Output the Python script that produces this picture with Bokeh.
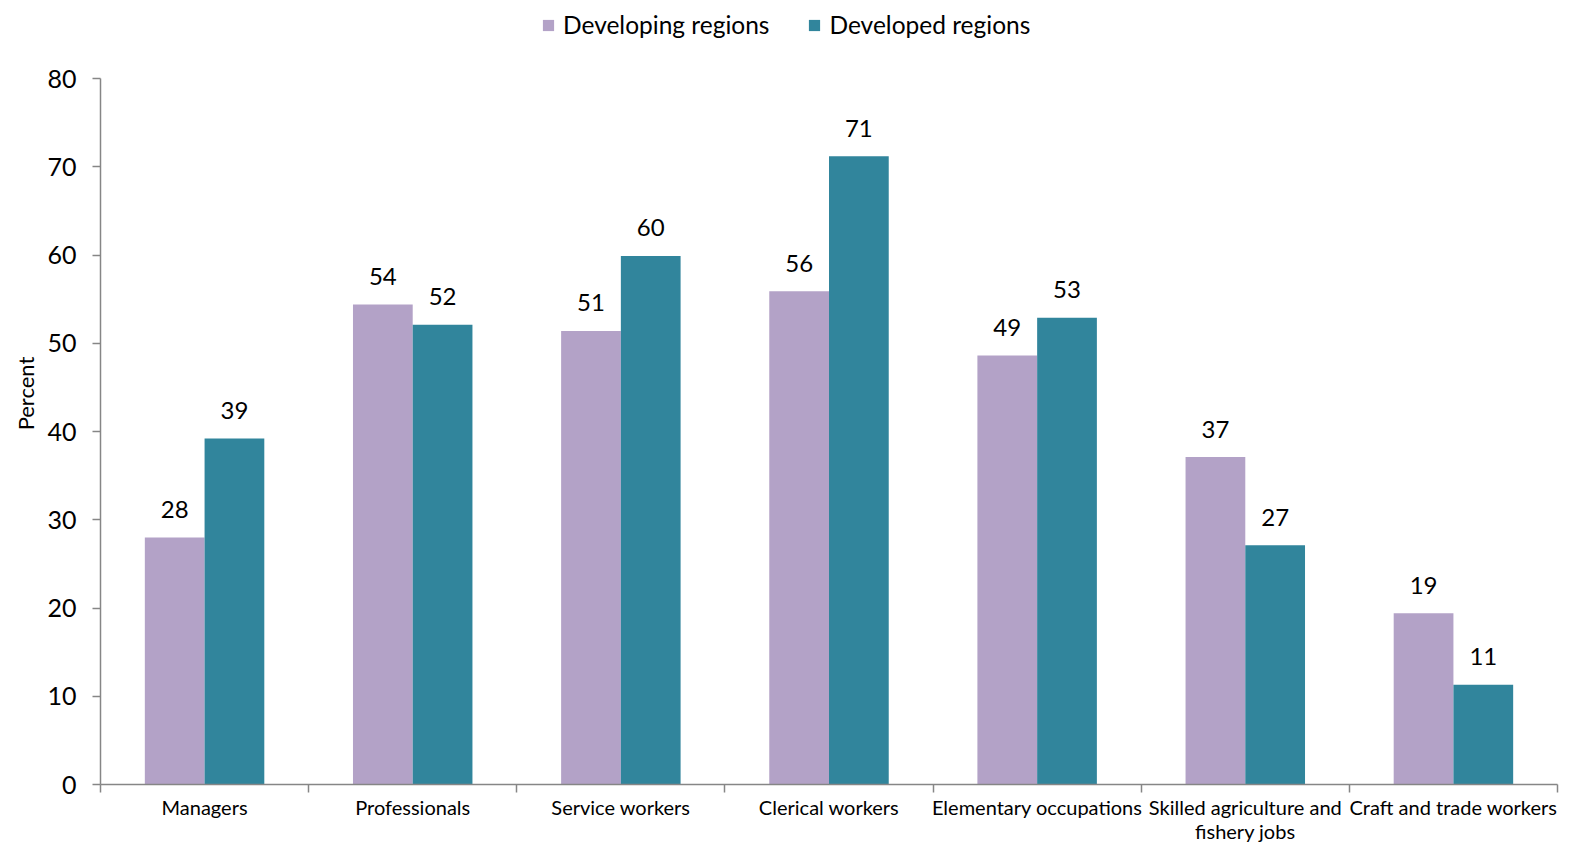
import numpy as np
from bokeh.plotting import figure
from bokeh.models import ColumnDataSource, FixedTicker, Legend, LegendItem, Range1d
from bokeh.core.properties import value
from bokeh.embed import file_html
from bokeh.resources import INLINE

categories = ["Managers", "Professionals", "Service workers", "Clerical workers",
              "Elementary occupations", "Skilled agriculture and\nfishery jobs",
              "Craft and trade workers"]
developing = [28.0, 54.4, 51.4, 55.9, 48.6, 37.1, 19.4]
developed = [39.2, 52.1, 59.9, 71.2, 52.9, 27.1, 11.3]
y_ticks = [0, 10, 20, 30, 40, 50, 60, 70, 80]

FONT = "Lato"
PURPLE = "#B3A2C7"
TEAL = "#31859C"
AXIS = "#868686"

idx = np.arange(len(categories))
bw = 0.287
src_a = ColumnDataSource(dict(x=idx + 0.5 - bw / 2, top=developing,
                              lab=[f"{v:.0f}" for v in developing]))
src_b = ColumnDataSource(dict(x=idx + 0.5 + bw / 2, top=developed,
                              lab=[f"{v:.0f}" for v in developed]))

# frame spans y 2..784; the 0..80 span occupies 78..784
px_per_unit = (784 - 78) / 80
y_top = 80 + 76 / px_per_unit
p = figure(width=1560, height=845, output_backend="svg", toolbar_location=None,
           x_range=Range1d(0, len(categories)), y_range=Range1d(0, y_top),
           min_border_left=100, min_border_right=3, min_border_top=2, min_border_bottom=61)
p.outline_line_color = None
p.xgrid.visible = False
p.ygrid.visible = False

ra = p.vbar(x="x", top="top", width=bw, source=src_a, fill_color=PURPLE, line_color=None)
rb = p.vbar(x="x", top="top", width=bw, source=src_b, fill_color=TEAL, line_color=None)

for s in (src_a, src_b):
    p.text(x="x", y="top", text="lab", source=s, text_align="center", text_baseline="middle",
           y_offset=-28, text_font=value(FONT), text_font_size="24px", text_color="black")

# x axis
xa = p.xaxis[0]
xa.ticker = FixedTicker(ticks=list(idx + 0.5), minor_ticks=list(range(len(categories) + 1)))
xa.major_label_overrides = {float(i + 0.5): c for i, c in enumerate(categories)}
xa.major_tick_line_color = None
xa.major_tick_out = 0
xa.major_tick_in = 0
xa.minor_tick_line_color = AXIS
xa.minor_tick_out = 8
xa.minor_tick_in = 0
xa.axis_line_color = AXIS
xa.axis_line_width = 1.5
xa.minor_tick_line_width = 1.5
xa.major_label_text_font = FONT
xa.major_label_text_font_size = "20px"
xa.major_label_text_line_height = 1.0
xa.major_label_text_color = "black"
xa.major_label_standoff = 2

ya = p.yaxis[0]
ya.ticker = FixedTicker(ticks=y_ticks)
ya.bounds = (0, 80)
ya.minor_tick_line_color = None
ya.major_tick_out = 8
ya.major_tick_in = 0
ya.major_tick_line_color = AXIS
ya.major_tick_line_width = 1.5
ya.axis_line_color = AXIS
ya.axis_line_width = 1.5
ya.major_label_text_font = FONT
ya.major_label_text_font_size = "25px"
ya.major_label_text_color = "black"
ya.major_label_standoff = 16
ya.axis_label = "Percent"
ya.axis_label_text_font = FONT
ya.axis_label_text_font_size = "22px"
ya.axis_label_text_font_style = "normal"
ya.axis_label_text_color = "black"
ya.axis_label_standoff = 5

legend = Legend(items=[LegendItem(label="Developing regions", renderers=[ra]),
                       LegendItem(label="Developed regions", renderers=[rb])],
                orientation="horizontal", location=(441, 745),
                label_text_font=FONT, label_text_font_size="24.5px", label_text_color="black",
                glyph_width=14, glyph_height=14, spacing=38, label_standoff=8,
                border_line_color=None, background_fill_alpha=0, margin=0, padding=4)
p.add_layout(legend, "center")

open("out.html", "w").write(file_html(p, INLINE))
